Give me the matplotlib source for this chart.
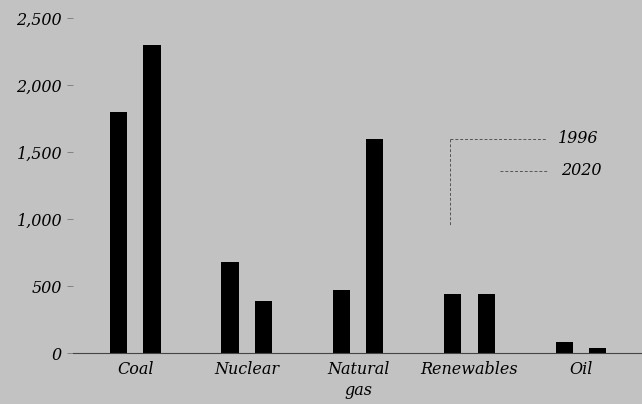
import numpy as np
import matplotlib.pyplot as plt

categories = ['Coal', 'Nuclear', 'Natural\ngas', 'Renewables', 'Oil']
years = ['1996', '2020']
values_1996 = [1800, 680, 470, 440, 80]
values_2020 = [2300, 390, 1600, 440, 40]
yticks = [0, 500, 1000, 1500, 2000, 2500]

bg = '#c2c2c2'
font = dict(family='DejaVu Serif', style='italic', size=11.5)

fig = plt.figure(figsize=(6.42, 4.04), dpi=100, facecolor=bg)
ax = fig.add_axes([0.114, 0.126, 0.886, 0.863], facecolor=bg)

x = np.arange(len(categories))
width = 0.155
ax.bar(x - 0.15, values_1996, width, color='black')
ax.bar(x + 0.15, values_2020, width, color='black')

ax.set_xlim(-0.556, 4.547)
ax.set_ylim(0, 2600)
ax.set_yticks(yticks)
ax.set_yticklabels(['{:,}'.format(v) for v in yticks], **font)
ax.tick_params(axis='y', length=4, width=0.6, color='#777777', pad=4)
ax.set_xticks(x)
ax.set_xticklabels(categories, linespacing=1.25, **font)
ax.tick_params(axis='x', length=0, pad=6)

for side in ('left', 'right', 'top'):
    ax.spines[side].set_visible(False)
ax.spines['bottom'].set_color('#444444')
ax.spines['bottom'].set_linewidth(0.8)

# legend with leader lines
line_kw = dict(color='#555555', lw=0.7, ls=(0, (3, 2)))
ax.plot([2.825, 3.695], [1597, 1597], **line_kw)
ax.plot([2.825, 2.825], [1597, 955], **line_kw)
ax.plot([3.274, 3.695], [1358, 1358], **line_kw)
ax.text(3.79, 1597, years[0], va='center', ha='left', **font)
ax.text(3.825, 1358, years[1], va='center', ha='left', **font)

fig.savefig('out.png', dpi=100, facecolor=bg)
